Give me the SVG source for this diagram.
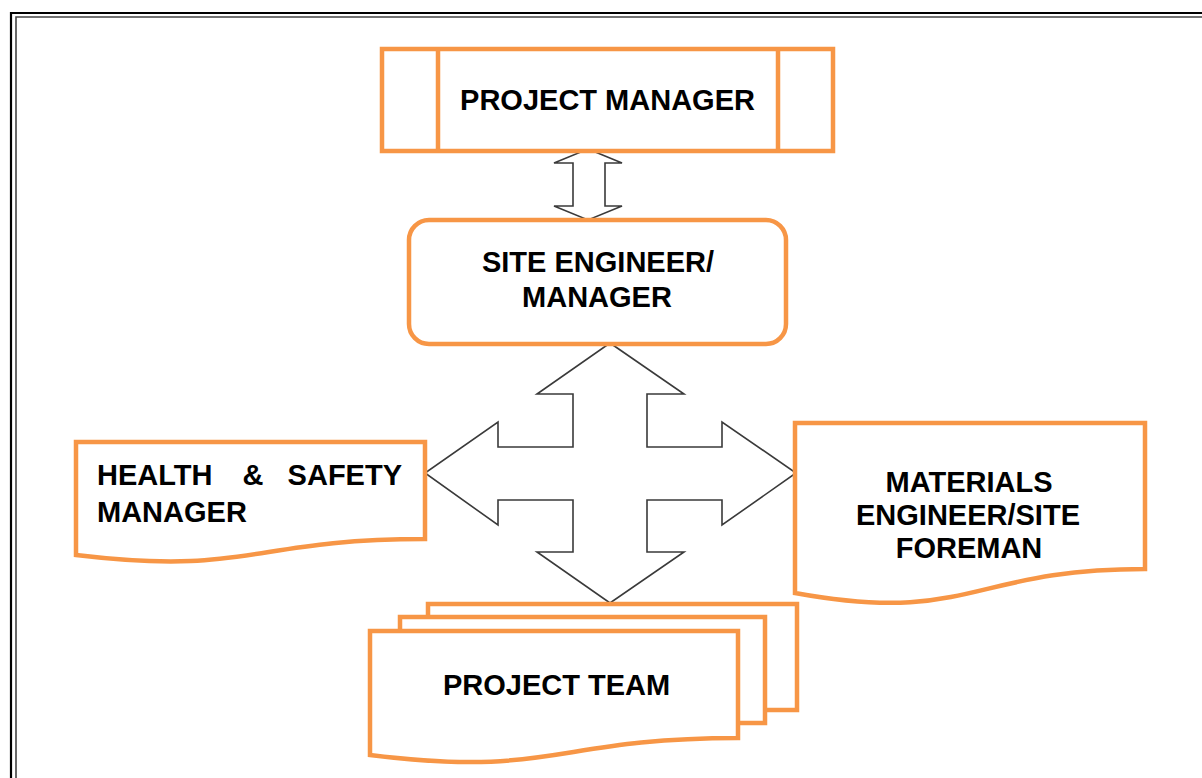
<svg xmlns="http://www.w3.org/2000/svg" width="1202" height="778" viewBox="0 0 1202 778">
<defs>
<style>
.box{fill:#ffffff;stroke:#F79646;stroke-width:4.5;stroke-linejoin:miter}
.arrow{fill:#ffffff;stroke:#3a3a3a;stroke-width:1.6;stroke-linejoin:miter}
.t{font-family:"Liberation Sans",Arial,sans-serif;font-weight:bold;font-size:29px;fill:#000000}
.c{text-anchor:middle}
</style>
</defs>
<rect width="1202" height="778" fill="#ffffff"/>
<g id="frame">
<path d="M11,778 V13 H1202" fill="none" stroke="#000000" stroke-width="2.2"/>
<path d="M16,778 V17 H1202" fill="none" stroke="#444444" stroke-width="1.6"/>
</g>
<g id="connectors">
<polygon class="arrow" points="588,149 622,163 605,163 605,206 622,206 588,220 554,206 573,206 573,163 554,163"/>
<polygon class="arrow" points="610,343 684,394 647,394 647,447 722,447 722,422 796,473 722,525 722,500 647,500 647,552 684,552 610,603 537,552 573,552 573,500 498,500 498,525 425,473 498,422 498,447 573,447 573,394 537,394"/>
</g>
<g id="project-manager">
<rect class="box" x="382" y="49" width="451" height="102"/>
<line class="box" x1="438" y1="49" x2="438" y2="151"/>
<line class="box" x1="778" y1="49" x2="778" y2="151"/>
<text class="t c" x="607.5" y="110">PROJECT MANAGER</text>
</g>
<g id="site-engineer">
<rect class="box" x="409" y="220" width="377" height="124" rx="20" ry="20"/>
<text class="t c" x="598" y="272">SITE ENGINEER/</text>
<text class="t c" x="597" y="307">MANAGER</text>
</g>
<g id="health-safety">
<path class="box" d="M76,442 H425 V539 C250.5,539 250.5,576 76,555 Z"/>
<text class="t" x="97" y="485">HEALTH</text>
<text class="t c" x="253" y="485">&amp;</text>
<text class="t" x="402" y="485" text-anchor="end">SAFETY</text>
<text class="t" x="97" y="522">MANAGER</text>
</g>
<g id="materials-engineer">
<path class="box" d="M795,423 H1145 V569 C970,569 970,625 795,593 Z"/>
<text class="t c" x="969" y="492">MATERIALS</text>
<text class="t c" x="968" y="525">ENGINEER/SITE</text>
<text class="t c" x="969" y="558">FOREMAN</text>
</g>
<g id="project-team">
<rect class="box" x="428" y="604" width="369" height="106"/>
<rect class="box" x="400" y="617" width="365" height="106"/>
<path class="box" d="M370,631 H738 V738 C554,738 554,778 370,755 Z"/>
<text class="t c" x="556.5" y="695">PROJECT TEAM</text>
</g>
</svg>
